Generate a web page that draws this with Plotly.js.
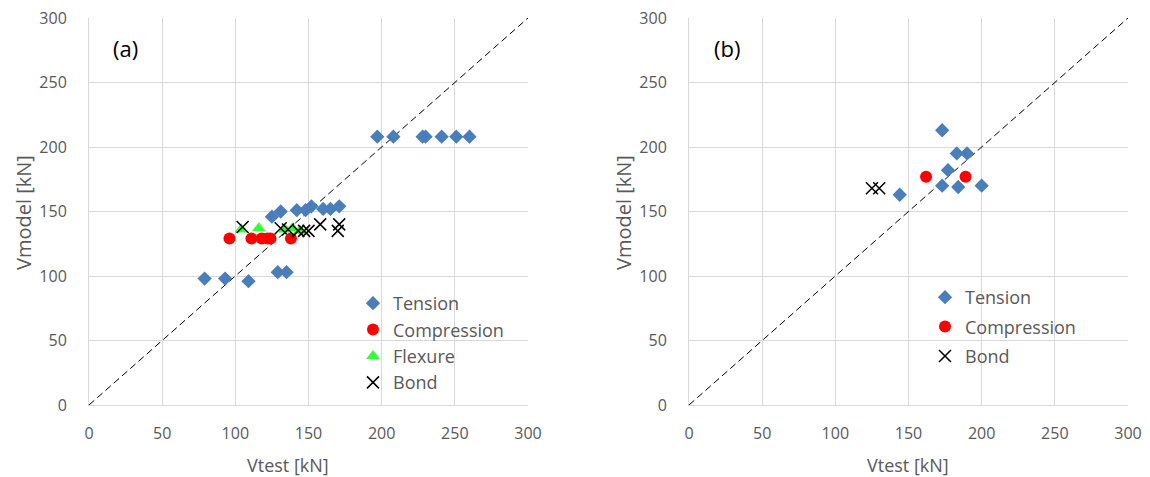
<!DOCTYPE html>
<html><head><meta charset="utf-8">
<script src="https://cdn.plot.ly/plotly-3.0.1.min.js"></script>
<style>body{margin:0;background:#fff}#c{width:1150px;height:477px}</style>
</head><body><div id="c"></div>
<script>
// Panel (a)
var aTensionX = [79, 93, 109, 129, 135, 125, 131, 142, 148, 152, 160, 165, 171, 197, 208, 228, 230, 241, 251, 260];
var aTensionY = [98, 98, 96, 103, 103, 146, 150, 151, 151, 154, 152, 152, 154, 208, 208, 208, 208, 208, 208, 208];
var aCompX = [96, 111, 118, 122, 124, 138];
var aCompY = [129, 129, 129, 129, 129, 129];
var aFlexX = [104, 116, 134, 139, 144];
var aFlexY = [136, 137, 136, 137, 135];
var aBondX = [105, 131, 136, 143, 147, 150, 158, 171, 170];
var aBondY = [138, 137, 136, 135, 135, 135, 140, 140, 135];
// Panel (b)
var bTensionX = [173, 183, 190, 177, 173, 184, 200, 144];
var bTensionY = [213, 195, 195, 182, 170, 169, 170, 163];
var bCompX = [162, 189];
var bCompY = [177, 177];
var bBondX = [125, 130];
var bBondY = [168, 168];
var lineXY = [0, 300];
var ticks = [0, 50, 100, 150, 200, 250, 300];

var cBlue = '#4a7ebb', cRed = '#ff0000', cGreen = '#33ff33';
var txt = '#595959';
var FONT = '"Open Sans", sans-serif';

function tr(x, y, name, sym, color, size, xa, ya, leg, grp, extra) {
  var m = {symbol: sym, color: color, size: size};
  if (extra) m.line = extra;
  return {x: x, y: y, name: name, type: 'scatter', mode: 'markers', marker: m,
    xaxis: xa, yaxis: ya, legend: leg, legendgroup: grp, showlegend: true};
}
var xLine = {color: '#000', width: 1.5};
var data = [
  {x: lineXY, y: lineXY, mode: 'lines', line: {color: '#000', width: 1, dash: '7px,4px'}, xaxis: 'x', yaxis: 'y', showlegend: false, hoverinfo: 'skip'},
  {x: lineXY, y: lineXY, mode: 'lines', line: {color: '#000', width: 1, dash: '7px,4px'}, xaxis: 'x2', yaxis: 'y2', showlegend: false, hoverinfo: 'skip'},
  tr(aTensionX, aTensionY, 'Tension', 'diamond', cBlue, 11, 'x', 'y', 'legend', 'a1'),
  tr(aCompX, aCompY, 'Compression', 'circle', cRed, 12, 'x', 'y', 'legend', 'a2'),
  tr(aFlexX, aFlexY, 'Flexure', 'triangle-up', cGreen, 12, 'x', 'y', 'legend', 'a3'),
  tr(aBondX, aBondY, 'Bond', 'x-thin', '#000', 12, 'x', 'y', 'legend', 'a4', xLine),
  tr(bTensionX, bTensionY, 'Tension', 'diamond', cBlue, 11, 'x2', 'y2', 'legend2', 'b1'),
  tr(bCompX, bCompY, 'Compression', 'circle', cRed, 12, 'x2', 'y2', 'legend2', 'b2'),
  tr(bBondX, bBondY, 'Bond', 'x-thin', '#000', 12, 'x2', 'y2', 'legend2', 'b3', xLine)
];

function ax(dom, anchor) {
  return {domain: dom, anchor: anchor, range: [0, 300], tickvals: ticks, showgrid: true,
    gridcolor: '#d9d9d9', gridwidth: 1, zeroline: false, showline: true, linecolor: '#d9d9d9', linewidth: 1,
    ticks: 'outside', ticklen: 14, tickcolor: 'rgba(0,0,0,0)',
    tickfont: {family: FONT, size: 16, color: txt}, fixedrange: true, mirror: false};
}
var xa = ax([89/1150, 528/1150], 'y');
var ya = ax([72/477, 459/477], 'x'); ya.ticklen = 18;
var xb = ax([689/1150, 1128/1150], 'y2');
var yb = ax([72/477, 459/477], 'x2'); yb.ticklen = 18;

var legFont = {family: FONT, size: 18, color: txt};
function A(text, px, py, size, color, angle) {
  var a = {x: px/1150, y: 1 - py/477, xref: 'paper', yref: 'paper', showarrow: false,
    xanchor: 'center', yanchor: 'middle', text: text, font: {family: FONT, size: size, color: color}};
  if (angle) a.textangle = angle; return a;
}
var ann = [
  A('(a)', 125, 48, 22, '#000'),
  A('(b)', 727, 48, 22, '#000'),
  A('Vtest [kN]', 288, 465, 18, txt),
  A('Vtest [kN]', 908, 465, 18, txt),
  A('Vmodel [kN]', 23, 213, 20, txt, -90),
  A('Vmodel [kN]', 623, 213, 20, txt, -90)
];
var layout = {
  width: 1150, height: 477, margin: {l: 0, r: 0, t: 0, b: 0},
  paper_bgcolor: '#fff', plot_bgcolor: '#fff',
  xaxis: xa, yaxis: ya, xaxis2: xb, yaxis2: yb,
  legend: {x: 353/1150, y: 1 - 285/477, xanchor: 'left', yanchor: 'top', font: legFont, bgcolor: 'rgba(255,255,255,0)', tracegroupgap: 0, itemwidth: 30},
  legend2: {x: 925/1150, y: 1 - 279/477, xanchor: 'left', yanchor: 'top', font: legFont, bgcolor: 'rgba(255,255,255,0)', tracegroupgap: 3, itemwidth: 30},
  annotations: ann
};
Plotly.newPlot('c', data, layout, {staticPlot: true});
</script></body></html>
